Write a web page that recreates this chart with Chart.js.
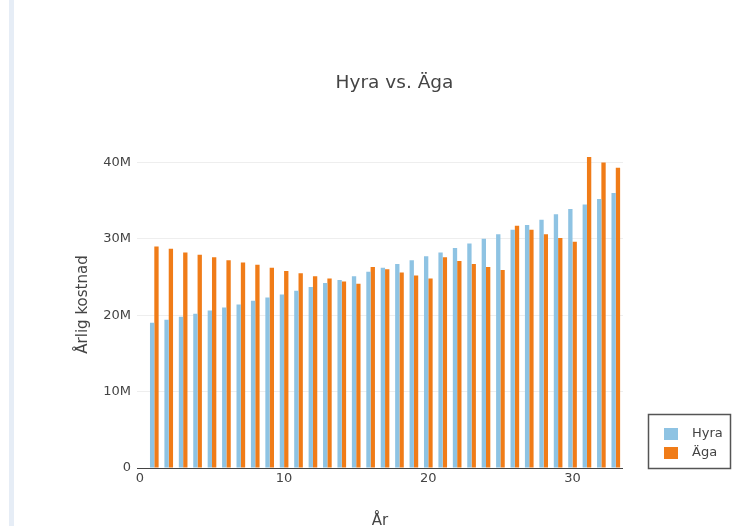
<!DOCTYPE html>
<html><head><meta charset="utf-8">
<script src="https://cdn.jsdelivr.net/npm/chart.js@4/dist/chart.umd.min.js"></script>
<style>
html,body{margin:0;padding:0;background:#fff;}
#wrap{position:relative;width:737px;height:526px;overflow:hidden;}
#edge{position:absolute;left:9px;top:0;width:5px;height:526px;background:#e6edf6;}
canvas{position:absolute;left:0;top:0;}
</style>
</head><body>
<div id="wrap"><div id="edge"></div><canvas id="c" width="737" height="526"></canvas></div>
<script>
const years = [1,2,3,4,5,6,7,8,9,10,11,12,13,14,15,16,17,18,19,20,21,22,23,24,25,26,27,28,29,30,31,32,33];
const hyra = [19.0,19.4,19.8,20.2,20.6,21.0,21.4,21.9,22.3,22.7,23.2,23.7,24.2,24.6,25.1,25.7,26.2,26.7,27.2,27.7,28.2,28.8,29.4,30.0,30.6,31.2,31.8,32.5,33.2,33.9,34.5,35.2,36.0];
const aga  = [29.0,28.7,28.2,27.9,27.6,27.2,26.9,26.6,26.2,25.8,25.5,25.1,24.8,24.4,24.1,26.3,26.0,25.6,25.2,24.8,27.6,27.1,26.7,26.3,25.9,31.7,31.2,30.6,30.1,29.6,40.7,40.0,39.3];
const xTicks = [0,10,20,30];
const yTicks = [0,10,20,30,40];
const seriesNames = ['Hyra','Äga'];

const FONT = 'DejaVu Sans';
const TXT = '#444';

const titleShift = {
  id:'titleShift',
  afterLayout(chart){
    const t = chart.titleBlock;
    if (t) { t.left = 52; t.right = 737; }
  }
};

const boxedLegend = {
  id:'boxedLegend',
  afterDraw(chart){
    const ctx = chart.ctx;
    ctx.save();
    ctx.strokeStyle = '#555';
    ctx.lineWidth = 1.5;
    ctx.strokeRect(648.5, 414.5, 82, 54);
    chart.data.datasets.forEach((ds, i) => {
      const y = 434 + i * 19;
      ctx.fillStyle = ds.backgroundColor;
      ctx.fillRect(664, y - 6, 14, 12);
      ctx.fillStyle = TXT;
      ctx.font = '13px "' + FONT + '"';
      ctx.textBaseline = 'middle';
      ctx.textAlign = 'left';
      ctx.fillText(ds.label, 692, y);
    });
    ctx.restore();
  }
};

new Chart(document.getElementById('c').getContext('2d'), {
  type: 'bar',
  data: {
    datasets: [
      { label: seriesNames[0], data: years.map((x, i) => ({ x: x, y: hyra[i] })), backgroundColor: '#8ec3e3' },
      { label: seriesNames[1], data: years.map((x, i) => ({ x: x, y: aga[i] })), backgroundColor: '#f07c18' }
    ]
  },
  options: {
    responsive: false,
    animation: false,
    devicePixelRatio: 1,
    categoryPercentage: 0.6,
    barPercentage: 1.0,
    layout: { padding: { left: 0, right: 114, top: 0, bottom: 0 } },
    plugins: {
      legend: { display: false },
      tooltip: { enabled: false },
      title: {
        display: true, text: 'Hyra vs. Äga', color: TXT,
        font: { family: FONT, size: 18.5, weight: 'normal' },
        padding: { top: 72, bottom: 46.8 }
      }
    },
    scales: {
      x: {
        type: 'linear', min: -0.2, max: 33.5, offset: false, bounds: 'data',
        afterBuildTicks: s => { s.ticks = xTicks.map(v => ({ value: v })); },
        ticks: { color: TXT, font: { family: FONT, size: 13 }, padding: 3, maxRotation: 0 },
        grid: { display: false, drawTicks: false, offset: false },
        border: { display: false },
        title: { display: true, text: 'År', color: TXT, font: { family: FONT, size: 15 }, padding: { top: 0, bottom: -4 } },
        afterFit: s => { s.height = 58; }
      },
      y: {
        min: 0, max: 42.8,
        afterBuildTicks: s => { s.ticks = yTicks.map(v => ({ value: v })); },
        ticks: { color: TXT, font: { family: FONT, size: 13 }, padding: 6, callback: v => v === 0 ? '0' : v + 'M' },
        grid: { color: c => (c.tick && c.tick.value === 0) ? '#444' : '#eeeeee', drawTicks: false, lineWidth: 1 },
        border: { display: false },
        title: { display: true, text: 'Årlig kostnad', color: TXT, font: { family: FONT, size: 15 }, padding: { top: 74, bottom: 0 } },
        afterFit: s => { s.width = 137; }
      }
    }
  },
  plugins: [titleShift, boxedLegend]
});
</script>
</body></html>
